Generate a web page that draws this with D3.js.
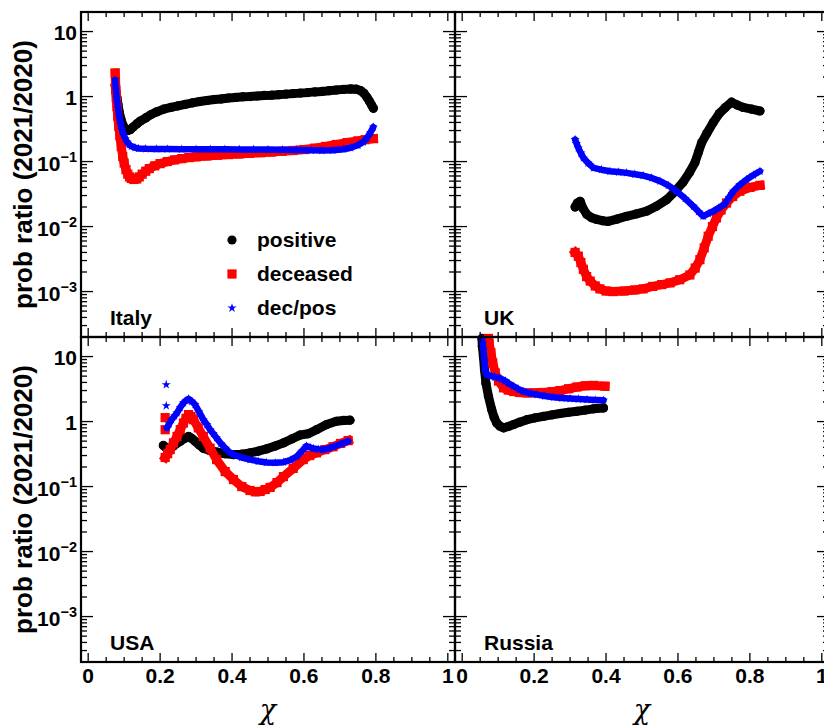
<!DOCTYPE html>
<html><head><meta charset="utf-8">
<script src="https://cdn.jsdelivr.net/npm/d3@7"></script>
<style>
body{margin:0;background:#fff;}
svg{display:block;}
text{font-family:"Liberation Sans",Arial,Helvetica,sans-serif;font-weight:bold;fill:#000;}
</style>
</head><body>
<svg id="chart" width="824" height="728"></svg>
<script>
// ---------- labels ----------
const countries = ["Italy", "UK", "USA", "Russia"];
const seriesNames = ["positive", "deceased", "dec/pos"];
const yTitle = "prob ratio (2021/2020)";
const xTitle = "\u03c7";
const xTickValues = [0, 0.2, 0.4, 0.6, 0.8, 1];
const xTickLabels = ["0", "0.2", "0.4", "0.6", "0.8", "1"];
const yTickValues = [10, 1, 0.1, 0.01, 0.001];
const yTickBase = ["10", "1", "10", "10", "10"];
const yTickExp = ["", "", "\u22121", "\u22122", "\u22123"];

// ---------- data: [chi, ratio] ----------
const italyPositive = [[0.075,1.5],[0.077,1.2],[0.08,0.95],[0.083,0.75],[0.087,0.56],[0.092,0.43],[0.097,0.36],[0.103,0.32],[0.11,0.3],[0.117,0.31],[0.125,0.34],[0.135,0.38],[0.145,0.42],[0.16,0.47],[0.175,0.53],[0.19,0.58],[0.21,0.64],[0.23,0.68],[0.25,0.72],[0.27,0.76],[0.29,0.8],[0.31,0.84],[0.33,0.87],[0.35,0.9],[0.37,0.92],[0.39,0.95],[0.41,0.97],[0.43,0.99],[0.45,1.0],[0.47,1.02],[0.49,1.04],[0.51,1.05],[0.53,1.07],[0.55,1.09],[0.57,1.11],[0.59,1.13],[0.61,1.15],[0.63,1.18],[0.65,1.2],[0.67,1.23],[0.69,1.26],[0.71,1.29],[0.73,1.31],[0.745,1.3],[0.757,1.24],[0.767,1.12],[0.775,0.98],[0.782,0.85],[0.788,0.74],[0.793,0.66]];
const italyDeceased = [[0.075,2.3],[0.076,1.7],[0.077,1.25],[0.078,0.95],[0.08,0.7],[0.082,0.5],[0.085,0.35],[0.088,0.25],[0.092,0.17],[0.096,0.12],[0.1,0.095],[0.105,0.075],[0.11,0.064],[0.115,0.058],[0.12,0.055],[0.127,0.053],[0.135,0.054],[0.142,0.058],[0.15,0.064],[0.16,0.071],[0.17,0.078],[0.185,0.086],[0.2,0.093],[0.22,0.1],[0.24,0.106],[0.26,0.111],[0.28,0.115],[0.3,0.118],[0.33,0.122],[0.36,0.125],[0.39,0.128],[0.42,0.131],[0.45,0.134],[0.48,0.137],[0.51,0.14],[0.54,0.144],[0.57,0.148],[0.6,0.153],[0.63,0.161],[0.66,0.171],[0.69,0.183],[0.72,0.196],[0.75,0.208],[0.77,0.217],[0.793,0.225]];
const italyDecPos = [[0.075,1.8],[0.077,1.3],[0.079,0.95],[0.081,0.8],[0.083,0.65],[0.086,0.5],[0.09,0.38],[0.094,0.31],[0.098,0.26],[0.103,0.225],[0.108,0.2],[0.114,0.182],[0.12,0.172],[0.13,0.164],[0.14,0.159],[0.16,0.157],[0.19,0.156],[0.22,0.156],[0.26,0.155],[0.3,0.155],[0.34,0.155],[0.38,0.155],[0.42,0.154],[0.46,0.154],[0.5,0.153],[0.54,0.152],[0.58,0.151],[0.62,0.149],[0.65,0.148],[0.68,0.149],[0.71,0.155],[0.73,0.163],[0.75,0.178],[0.765,0.2],[0.775,0.23],[0.785,0.28],[0.793,0.34]];

const ukPositive = [[0.314,0.02],[0.32,0.023],[0.328,0.0245],[0.336,0.019],[0.346,0.0155],[0.36,0.0137],[0.374,0.0129],[0.39,0.0123],[0.406,0.012],[0.43,0.013],[0.457,0.0144],[0.485,0.0157],[0.513,0.0173],[0.54,0.0205],[0.569,0.026],[0.59,0.034],[0.614,0.048],[0.632,0.068],[0.647,0.096],[0.657,0.14],[0.666,0.196],[0.68,0.27],[0.698,0.4],[0.715,0.55],[0.732,0.68],[0.749,0.82],[0.765,0.74],[0.781,0.68],[0.805,0.64],[0.828,0.6]];
const ukDeceased = [[0.314,0.004],[0.323,0.0035],[0.33,0.0028],[0.337,0.0022],[0.346,0.0017],[0.356,0.00145],[0.37,0.00122],[0.383,0.0011],[0.4,0.00102],[0.42,0.001],[0.45,0.00102],[0.48,0.00106],[0.503,0.0011],[0.53,0.0012],[0.555,0.00128],[0.578,0.00136],[0.605,0.00152],[0.633,0.0018],[0.648,0.0023],[0.661,0.0031],[0.673,0.0047],[0.684,0.0071],[0.696,0.01],[0.707,0.0136],[0.72,0.018],[0.735,0.023],[0.752,0.029],[0.772,0.035],[0.8,0.04],[0.828,0.043]];
const ukDecPos = [[0.314,0.218],[0.318,0.19],[0.323,0.162],[0.33,0.135],[0.337,0.114],[0.35,0.095],[0.365,0.08],[0.387,0.075],[0.411,0.071],[0.435,0.069],[0.457,0.067],[0.48,0.064],[0.503,0.061],[0.527,0.056],[0.55,0.05],[0.573,0.043],[0.596,0.035],[0.62,0.027],[0.643,0.0205],[0.657,0.017],[0.67,0.0144],[0.684,0.0158],[0.698,0.0172],[0.714,0.0195],[0.73,0.022],[0.742,0.028],[0.754,0.035],[0.772,0.044],[0.791,0.053],[0.81,0.062],[0.828,0.071]];

const usaPositive = [[0.209,0.43],[0.216,0.4],[0.223,0.37],[0.23,0.39],[0.237,0.42],[0.246,0.46],[0.256,0.5],[0.268,0.55],[0.279,0.59],[0.288,0.55],[0.297,0.5],[0.308,0.44],[0.32,0.39],[0.338,0.36],[0.357,0.34],[0.38,0.32],[0.404,0.31],[0.427,0.315],[0.45,0.33],[0.473,0.35],[0.496,0.38],[0.52,0.42],[0.543,0.47],[0.566,0.54],[0.589,0.62],[0.612,0.65],[0.635,0.75],[0.663,0.9],[0.69,1.01],[0.71,1.04],[0.728,1.05]];
const usaDeceased = [[0.214,0.28],[0.221,0.32],[0.228,0.37],[0.237,0.47],[0.247,0.59],[0.256,0.75],[0.265,0.95],[0.272,1.12],[0.279,1.28],[0.286,1.2],[0.293,1.07],[0.306,0.8],[0.32,0.59],[0.339,0.39],[0.357,0.26],[0.381,0.17],[0.404,0.128],[0.427,0.1],[0.45,0.087],[0.465,0.083],[0.478,0.084],[0.492,0.09],[0.506,0.097],[0.525,0.115],[0.543,0.142],[0.57,0.19],[0.598,0.26],[0.616,0.3],[0.635,0.33],[0.658,0.37],[0.681,0.41],[0.702,0.46],[0.723,0.51]];
const usaDecPos = [[0.219,0.8],[0.225,0.92],[0.232,1.07],[0.24,1.22],[0.247,1.36],[0.256,1.65],[0.265,1.94],[0.272,2.1],[0.279,2.23],[0.288,2.05],[0.297,1.83],[0.308,1.42],[0.32,1.07],[0.33,0.9],[0.339,0.75],[0.348,0.65],[0.357,0.56],[0.369,0.46],[0.381,0.39],[0.392,0.34],[0.404,0.31],[0.427,0.28],[0.45,0.26],[0.473,0.245],[0.496,0.235],[0.52,0.233],[0.543,0.237],[0.562,0.255],[0.58,0.29],[0.594,0.35],[0.607,0.42],[0.617,0.4],[0.626,0.385],[0.64,0.375],[0.654,0.37],[0.668,0.385],[0.681,0.41],[0.702,0.45],[0.723,0.5]];
const usaDeceasedStray = [[0.214,1.15],[0.214,0.75]];
const usaDecPosStray = [[0.217,3.7],[0.217,1.75]];

const russiaPositive = [[0.055,19],[0.056,14.4],[0.059,10],[0.062,6.3],[0.066,3.9],[0.073,2.45],[0.082,1.53],[0.089,1.15],[0.096,0.95],[0.105,0.85],[0.115,0.8],[0.128,0.84],[0.143,0.9],[0.16,0.98],[0.18,1.07],[0.203,1.14],[0.226,1.2],[0.25,1.27],[0.272,1.33],[0.296,1.39],[0.319,1.44],[0.342,1.5],[0.365,1.57],[0.393,1.62]];
const russiaDeceased = [[0.073,19],[0.075,16],[0.08,11.4],[0.085,8],[0.092,5.6],[0.101,4.2],[0.115,3.3],[0.128,3.05],[0.143,2.9],[0.16,2.8],[0.18,2.76],[0.203,2.77],[0.226,2.8],[0.25,2.88],[0.272,3.0],[0.296,3.2],[0.319,3.4],[0.342,3.55],[0.365,3.6],[0.397,3.5]];
const russiaDecPos = [[0.055,19],[0.057,16],[0.059,12.8],[0.062,8.5],[0.064,5.9],[0.068,5.3],[0.075,5.1],[0.082,5.0],[0.091,4.85],[0.101,4.7],[0.11,4.5],[0.12,4.2],[0.13,3.85],[0.143,3.5],[0.157,3.15],[0.171,2.9],[0.19,2.72],[0.208,2.6],[0.23,2.47],[0.254,2.37],[0.277,2.3],[0.3,2.26],[0.323,2.22],[0.347,2.18],[0.37,2.15],[0.393,2.13]];

// ---------- layout ----------
const W = 824, H = 728;
const panelW = 374, panelH = 325;
const colX = [81, 455], rowY = [12, 337];
const colors = ["#000000", "#ff0000", "#0000ff"];
const xDomain = [-0.02, 1.02];
const yDomain = [2e-4, 20];

const panels = [
  {name: countries[0], col: 0, row: 0, series: [italyPositive, italyDeceased, italyDecPos], stray: [[], [], []]},
  {name: countries[1], col: 1, row: 0, series: [ukPositive, ukDeceased, ukDecPos], stray: [[], [], []]},
  {name: countries[2], col: 0, row: 1, series: [usaPositive, usaDeceased, usaDecPos], stray: [[], usaDeceasedStray, usaDecPosStray]},
  {name: countries[3], col: 1, row: 1, series: [russiaPositive, russiaDeceased, russiaDecPos], stray: [[], [], []]}
];

const svg = d3.select("#chart");
svg.append("rect").attr("width", W).attr("height", H).attr("fill", "#fff");

const starPath = d3.symbol().type(d3.symbolStar).size(26)();
function drawMarker(g, kind, x, y, color) {
  if (kind === 0) {
    g.append("circle").attr("cx", x).attr("cy", y).attr("r", 4.6).attr("fill", color);
  } else if (kind === 1) {
    g.append("rect").attr("x", x - 4.6).attr("y", y - 4.6).attr("width", 9.2).attr("height", 9.2).attr("fill", color);
  } else {
    g.append("path").attr("d", starPath).attr("transform", `translate(${x},${y})`).attr("fill", color);
  }
}

panels.forEach((p, i) => {
  const x0 = colX[p.col], y0 = rowY[p.row];
  const x = d3.scaleLinear().domain(xDomain).range([x0, x0 + panelW]);
  const y = d3.scaleLog().domain(yDomain).range([y0 + panelH, y0]);
  const g = svg.append("g");

  const clipId = "clip" + i;
  svg.append("clipPath").attr("id", clipId).append("rect")
    .attr("x", x0).attr("y", y0).attr("width", panelW).attr("height", panelH);

  // data
  const dg = g.append("g");
  const lineW = [9, 9, 6.5];
  p.series.forEach((data, k) => {
    const line = d3.line().x(d => x(d[0])).y(d => y(d[1]));
    dg.append("path").attr("d", line(data)).attr("fill", "none")
      .attr("stroke", colors[k]).attr("stroke-width", lineW[k])
      .attr("stroke-linejoin", "round").attr("stroke-linecap", k === 1 ? "square" : "round")
      .attr("clip-path", `url(#${clipId})`);
    const mg = dg.append("g");
    data.concat(p.stray[k]).filter(d => d[1] <= yDomain[1] && d[1] >= yDomain[0])
      .forEach(d => drawMarker(mg, k, x(d[0]), y(d[1]), colors[k]));
  });

  // ticks (ROOT style, on all four sides, pointing inward)
  const tg = g.append("g").attr("stroke", "#000").attr("stroke-width", 1.3);
  const xMinor = d3.range(0, 1.0001, 0.05).filter(v => !xTickValues.some(t => Math.abs(t - v) < 1e-6));
  xTickValues.forEach(v => {
    tg.append("line").attr("x1", x(v)).attr("x2", x(v)).attr("y1", y0 + panelH).attr("y2", y0 + panelH - 9);
    tg.append("line").attr("x1", x(v)).attr("x2", x(v)).attr("y1", y0).attr("y2", y0 + 9);
  });
  xMinor.forEach(v => {
    tg.append("line").attr("x1", x(v)).attr("x2", x(v)).attr("y1", y0 + panelH).attr("y2", y0 + panelH - 5);
    tg.append("line").attr("x1", x(v)).attr("x2", x(v)).attr("y1", y0).attr("y2", y0 + 5);
  });
  const yMajor = [10, 1, 0.1, 0.01, 0.001];
  const yMinor = [];
  [1e-4, 1e-3, 1e-2, 1e-1, 1, 10].forEach(dec => {
    for (let m = 2; m <= 9; m++) {
      const v = dec * m;
      if (v > yDomain[0] * 1.0001 && v < yDomain[1] * 0.9999) yMinor.push(v);
    }
  });
  yMajor.forEach(v => {
    tg.append("line").attr("x1", x0).attr("x2", x0 + 12).attr("y1", y(v)).attr("y2", y(v));
    tg.append("line").attr("x1", x0 + panelW).attr("x2", x0 + panelW - 12).attr("y1", y(v)).attr("y2", y(v));
  });
  yMinor.forEach(v => {
    tg.append("line").attr("x1", x0).attr("x2", x0 + 6).attr("y1", y(v)).attr("y2", y(v));
    tg.append("line").attr("x1", x0 + panelW).attr("x2", x0 + panelW - 6).attr("y1", y(v)).attr("y2", y(v));
  });

  // frame
  g.append("rect").attr("x", x0).attr("y", y0).attr("width", panelW).attr("height", panelH)
    .attr("fill", "none").attr("stroke", "#000").attr("stroke-width", 2.2);

  // y tick labels + title (left column)
  if (p.col === 0) {
    yTickValues.forEach((v, j) => {
      const t = g.append("text").attr("text-anchor", "end").attr("x", x0 - 4)
        .attr("y", y(v) + (yTickExp[j] ? 9 : 8)).attr("font-size", 21).text(yTickBase[j]);
      if (yTickExp[j]) t.append("tspan").attr("dy", -9).attr("font-size", 14.5).text(yTickExp[j]);
    });
    g.append("text").attr("transform", `translate(32,${y0 + panelH / 2}) rotate(-90)`)
      .attr("text-anchor", "middle").attr("font-size", 26).text(yTitle);
  }
  // x tick labels + title (bottom row)
  if (p.row === 1) {
    xTickValues.forEach((v, j) => {
      g.append("text").attr("text-anchor", "middle").attr("x", x(v)).attr("y", y0 + panelH + 21)
        .attr("font-size", 21).text(xTickLabels[j]);
    });
    g.append("text").attr("text-anchor", "middle").attr("x", x0 + panelW / 2).attr("y", 719)
      .style("font-family", "'DejaVu Serif','Liberation Serif',serif").style("font-weight", "normal")
      .style("font-style", "italic").attr("font-size", 27).text(xTitle);
  }
  // country label
  g.append("text").attr("x", x0 + 29).attr("y", y0 + panelH - 12).attr("font-size", 21).text(p.name);

  // legend in first panel
  if (i === 0) {
    const lg = g.append("g");
    seriesNames.forEach((s, k) => {
      const my = 240 + k * 34;
      drawMarker(lg, k, 232, my, colors[k]);
      lg.append("text").attr("x", 257).attr("y", my + 7).attr("font-size", 21).text(s);
    });
  }
});
</script>
</body></html>
